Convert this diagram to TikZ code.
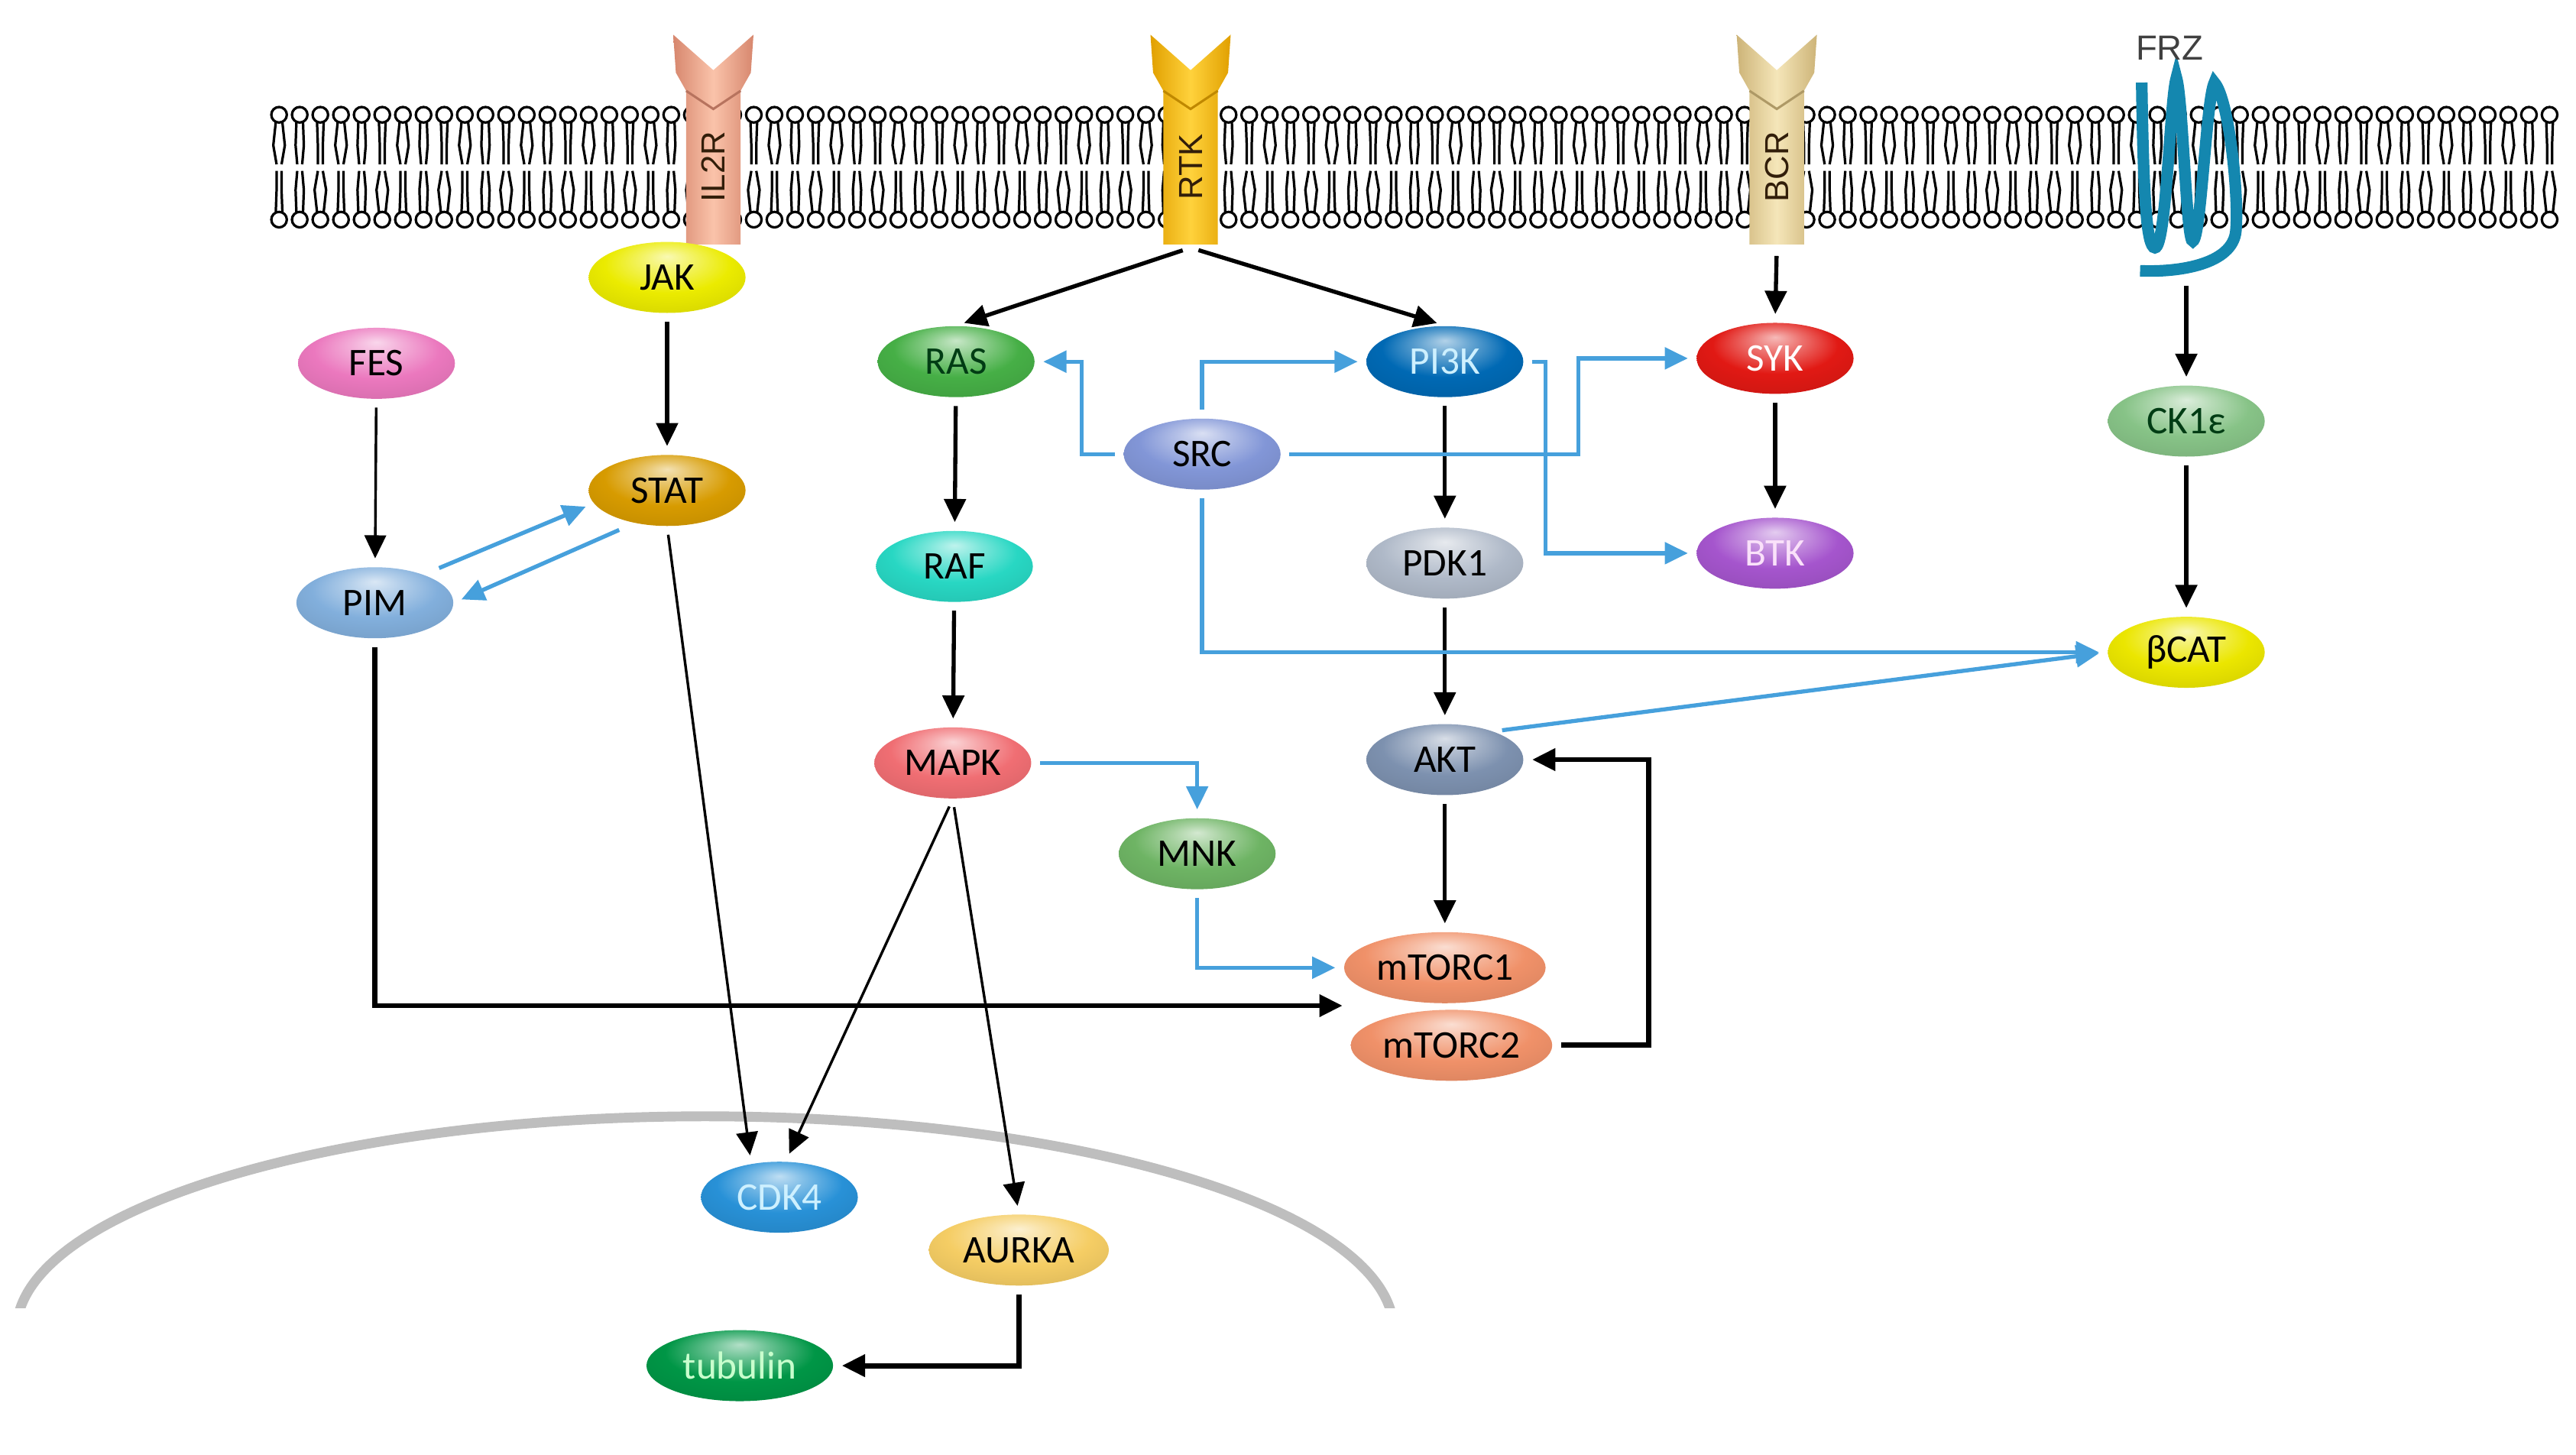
\documentclass[tikz,border=0pt]{standalone}
\usepackage{fontspec}
\newfontfamily\protfont{Carlito}
\newfontfamily\recfont{Liberation Sans}
\usetikzlibrary{shapes.geometric}
\usetikzlibrary{arrows.meta}
\definecolor{sigblue}{RGB}{70,160,220}
\definecolor{nucgray}{RGB}{190,190,190}
\definecolor{frzblue}{RGB}{20,135,175}
\definecolor{reclab}{RGB}{50,30,10}
\definecolor{il2rl}{RGB}{250,195,170}
\definecolor{il2rd}{RGB}{215,135,110}
\definecolor{rtkl}{RGB}{255,210,60}
\definecolor{rtkd}{RGB}{225,160,0}
\definecolor{bcrl}{RGB}{245,230,185}
\definecolor{bcrd}{RGB}{205,180,120}
\definecolor{cJAK}{RGB}{235,235,0}
\definecolor{cFES}{RGB}{235,120,190}
\definecolor{cSTAT}{RGB}{215,155,0}
\definecolor{cPIM}{RGB}{130,175,220}
\definecolor{cRAS}{RGB}{70,175,70}
\definecolor{cSRC}{RGB}{130,150,215}
\definecolor{cPIK}{RGB}{0,105,180}
\definecolor{cSYK}{RGB}{225,25,20}
\definecolor{cCK}{RGB}{135,195,135}
\definecolor{cRAF}{RGB}{40,215,195}
\definecolor{cPDK}{RGB}{175,185,200}
\definecolor{cBTK}{RGB}{165,85,205}
\definecolor{cBCAT}{RGB}{235,230,0}
\definecolor{cMAPK}{RGB}{240,110,115}
\definecolor{cAKT}{RGB}{125,145,175}
\definecolor{cMNK}{RGB}{110,180,100}
\definecolor{cMTOR}{RGB}{240,145,105}
\definecolor{cCDK}{RGB}{40,145,215}
\definecolor{cAUR}{RGB}{245,205,100}
\definecolor{cTUB}{RGB}{0,150,70}
\definecolor{txtgreen}{RGB}{0,60,20}
\definecolor{txtcyan}{RGB}{205,240,255}
\definecolor{txtpink}{RGB}{250,225,250}
\definecolor{txtlgreen}{RGB}{200,255,205}
\colorlet{protcol}{gray}
\pgfdeclareradialshading[protcol]{protball}{\pgfpoint{0bp}{15bp}}{color(0bp)=(protcol!30!white); color(8bp)=(protcol!60!white); color(20bp)=(protcol); color(38bp)=(protcol!88!black); color(50bp)=(protcol!68!black)}

\begin{document}
\begin{tikzpicture}[x=0.2mm, y=-0.2mm,
    prot/.style={ellipse, shade, shading=protball, minimum width=1.9cm, minimum height=0.86cm, inner sep=0pt, font=\protfont\fontsize{13.5}{16}\selectfont},
    pc/.code={\colorlet{protcol}{#1}},
    sig/.style={-{Triangle[length=2.8mm,width=2.6mm]}, line width=1.4pt, shorten <=1mm, shorten >=1mm},
    thinsig/.style={sig, line width=0.9pt},
    blu/.style={sig, color=sigblue},
    lipid/.style={line width=0.85pt},
    nucleus/.style={nucgray, line width=3.4pt}]

    \useasboundingbox (0,0) rectangle (1560,881);

    % membrane
    \foreach \i in {0,...,110} {
        \pgfmathsetmacro\hx{169+12.5*\i}
        \pgfmathsetmacro\dx{mod(\i,3)-1}
        \draw[lipid] (\hx-2,74) -- (\hx-2.5+\dx,88) -- (\hx-1.5,99.5) (\hx+2,74) -- (\hx+2.5-\dx,88) -- (\hx+1.5,99.5);
        \draw[lipid] (\hx-2,128.5) -- (\hx-2.5-\dx,115) -- (\hx-1.5,103.5) (\hx+2,128.5) -- (\hx+2.5+\dx,115) -- (\hx+1.5,103.5);
        \draw[lipid, fill=white] (\hx,69.5) circle (4.7);
        \draw[lipid, fill=white] (\hx,133) circle (4.7);
    }

    % receptors
    \foreach \cx/\nm/\cl/\cd in {432/IL2R/il2rl/il2rd, 721/RTK/rtkl/rtkd, 1076/BCR/bcrl/bcrd} {
        \shade[left color=\cd, right color=\cd, middle color=\cl] (\cx-16.5,148) -- (\cx-16.5,55) -- (\cx-22.7,44) -- (\cx-24.3,21) -- (\cx,42.5) -- (\cx+24.3,21) -- (\cx+22.7,44) -- (\cx+16.5,55) -- (\cx+16.5,148) -- cycle;
        \draw[\cd!85!black, line width=0.8pt] (\cx-16.5,55) -- (\cx,66) -- (\cx+16.5,55);
        \node[rotate=90, text=reclab, font=\recfont\fontsize{11.5}{13}\selectfont] (\nm) at (\cx,101) {\nm};
        \coordinate (\nm foot) at (\cx,150);
    }

    \draw[frzblue, line width=4pt] (1297,50) .. controls (1298,120) and (1300,150) .. (1305,150) .. controls (1312,150) and (1314,60) .. (1318,47) .. controls (1322,60) and (1324,148) .. (1328,146) .. controls (1333,144) and (1336,60) .. (1341,50) .. controls (1350,60) and (1356,120) .. (1354,140) .. controls (1352,160) and (1320,165) .. (1296,164);
    \node[text=black!75, font=\recfont\fontsize{12}{14}\selectfont] (FRZ) at (1314,29) {FRZ};
    \coordinate (FRZfoot) at (1324,168);

    % nucleus
    \begin{scope}
        \clip (0,0) rectangle (1560,792);
        \draw[nucleus] (427,806) ellipse [x radius=417, y radius=130];
    \end{scope}

    \node[prot, pc=cJAK] (JAK) at (404,168) {JAK};
    \node[prot, pc=cFES] (FES) at (228,220) {FES};
    \node[prot, pc=cSTAT] (STAT) at (404,297) {STAT};
    \node[prot, pc=cPIM] (PIM) at (227,365) {PIM};
    \node[prot, pc=cRAS, text=txtgreen] (RAS) at (579,219) {RAS};
    \node[prot, pc=cSRC] (SRC) at (728,275) {SRC};
    \node[prot, pc=cPIK, text=txtcyan] (PI3K) at (875,219) {PI3K};
    \node[prot, pc=cSYK, text=white] (SYK) at (1075,217) {SYK};
    \node[prot, pc=cCK, text=txtgreen] (CK1e) at (1324,255) {CK1ε};
    \node[prot, pc=cRAF] (RAF) at (578,343) {RAF};
    \node[prot, pc=cPDK] (PDK1) at (875,341) {PDK1};
    \node[prot, pc=cBTK, text=txtpink] (BTK) at (1075,335) {BTK};
    \node[prot, pc=cBCAT] (BCAT) at (1324,395) {βCAT};
    \node[prot, pc=cMAPK] (MAPK) at (577,462) {MAPK};
    \node[prot, pc=cAKT] (AKT) at (875,460) {AKT};
    \node[prot, pc=cMNK] (MNK) at (725,517) {MNK};
    \node[prot, pc=cMTOR, minimum width=2.44cm] (mTORC1) at (875,586) {mTORC1};
    \node[prot, pc=cMTOR, minimum width=2.44cm] (mTORC2) at (879,633) {mTORC2};
    \node[prot, pc=cCDK, text=txtcyan] (CDK4) at (472,725) {CDK4};
    \node[prot, pc=cAUR, minimum width=2.18cm] (AURKA) at (617,757) {AURKA};
    \node[prot, pc=cTUB, text=txtlgreen, minimum width=2.26cm] (tubulin) at (448,827) {tubulin};
    \coordinate (mtgap) at (818,609);

    \draw[sig] (RTKfoot) -- (RAS.north);
    \draw[sig] (RTKfoot) -- (PI3K.north);
    \draw[sig] (BCRfoot) -- (SYK.north);
    \draw[sig] (FRZfoot) -- (CK1e.north);
    \draw[sig] (JAK) -- (STAT);
    \draw[thinsig] (FES) -- (PIM);
    \draw[sig] (RAS) -- (RAF);
    \draw[sig] (RAF) -- (MAPK);
    \draw[sig] (PI3K) -- (PDK1);
    \draw[sig] (PDK1) -- (AKT);
    \draw[sig] (AKT) -- (mTORC1);
    \draw[sig] (SYK) -- (BTK);
    \draw[sig] (CK1e) -- (BCAT);
    \draw[thinsig] (STAT.south) -- (CDK4.130);
    \draw[thinsig] (MAPK.south) -- (CDK4.80);
    \draw[thinsig] (MAPK.south) -- (AURKA.north);
    \draw[sig, line width=1.8pt] (PIM.south) |- (mtgap);
    \draw[sig, line width=1.8pt] (mTORC2.east) -- ++(58,0) |- (AKT.east);
    \draw[sig, line width=1.8pt] (AURKA.south) |- (tubulin.east);

    \draw[blu] (SRC.west) -- ++(-25,0) |- (RAS.east);
    \draw[blu] (SRC.north) |- (PI3K.west);
    \draw[blu] (SRC.east) -- ++(180,0) |- (SYK.west);
    \draw[blu] (PI3K.east) -- ++(13,0) |- (BTK.west);
    \draw[blu] (SRC.south) |- (BCAT.west);
    \draw[blu] (AKT.30) -- (BCAT.west);
    \draw[blu] (MAPK.east) -| (MNK.north);
    \draw[blu] (MNK.south) |- (mTORC1.west);
    \draw[blu, shorten <=2mm] (PIM.30) -- (STAT.190);
    \draw[blu, shorten <=2mm] (STAT.225) -- (PIM.east);

\end{tikzpicture}
\end{document}
